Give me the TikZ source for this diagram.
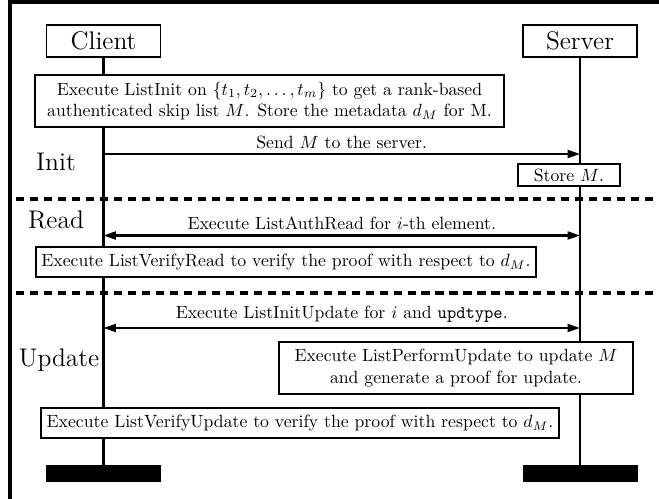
\documentclass[tikz,border=0pt]{standalone}
\usetikzlibrary{arrows.meta}
\newcommand\pxu{0.565pt}
\begin{document}
\begin{tikzpicture}[x=0.565pt,y=-0.565pt,
  box/.style={draw, line width=0.6pt, fill=white, inner sep=0pt, align=center},
  actor/.style={box, font=\Large, minimum width=114*\pxu, minimum height=32*\pxu},
  endbar/.style={fill=black, inner sep=0pt, minimum width=115*\pxu, minimum height=17*\pxu},
  life/.style={line width=1.2pt},
  msg/.style={line width=1.2pt, -{Triangle[length=7pt,width=4.5pt]}},
  dmsg/.style={line width=1.2pt, {Triangle[length=7pt,width=4.5pt]}-{Triangle[length=7pt,width=4.5pt]}},
  sep/.style={line width=2.1pt, dash pattern=on 4.6pt off 3.3pt},
  phase/.style={font=\Large, inner sep=0pt},
  lbl/.style={above, inner sep=2.5pt}]
\useasboundingbox (0,0) rectangle (659,499);
% frame
\draw[line width=2.3pt] (10,499) -- (10,2) -- (659,2);
% actors
\node[actor] (client) at (103.5,41) {Client};
\node[actor] (server) at (580,41) {Server};
\node[endbar] (cend) at (103.5,474) {};
\node[endbar] (send) at (580,474) {};
% lifelines
\draw[life] (client.south) -- (cend.north);
\draw[life] (server.south) -- (send.north);
% separators
\draw[sep] (16,199) -- (659,199);
\draw[sep] (16,293) -- (659,293);
% phase labels
\node[phase] (linit) at (56,162) {Init};
\node[phase] (lread) at (56,220) {Read};
\node[phase] (lupd) at (59,360) {Update};
% Init
\node[box, minimum width=469*\pxu, minimum height=52*\pxu] (initbox) at (269.5,101)
  {Execute ListInit on $\{t_1,t_2,\ldots,t_m\}$ to get a rank-based\\
   authenticated skip list $M$. Store the metadata $d_M$ for M.};
\coordinate (c1) at (103.5,154);
\coordinate (s1) at (580,154);
\draw[msg] (c1) -- node[lbl] (sendlbl) {Send $M$ to the server.} (s1);
\node[box, minimum width=102*\pxu, minimum height=22*\pxu] (store) at (569,175) {Store $M$.};
% Read
\coordinate (c2) at (103.5,235.5);
\coordinate (s2) at (580,235.5);
\draw[dmsg] (c2) -- node[lbl] (readlbl) {Execute ListAuthRead for $i$-th element.} (s2);
\node[box, minimum width=500*\pxu, minimum height=30*\pxu] (vread) at (286,262)
  {Execute ListVerifyRead to verify the proof with respect to $d_M$.};
% Update
\coordinate (c3) at (103.5,328);
\coordinate (s3) at (580,328);
\draw[dmsg] (c3) -- node[lbl] (updlbl) {Execute ListInitUpdate for $i$ and \texttt{updtype}.} (s3);
\node[box, minimum width=354*\pxu, minimum height=52*\pxu] (perf) at (456,368)
  {Execute ListPerformUpdate to update $M$\\ and generate a proof for update.};
\node[box, minimum width=518*\pxu, minimum height=30*\pxu] (vupd) at (300,423)
  {Execute ListVerifyUpdate to verify the proof with respect to $d_M$.};
\end{tikzpicture}
\end{document}
